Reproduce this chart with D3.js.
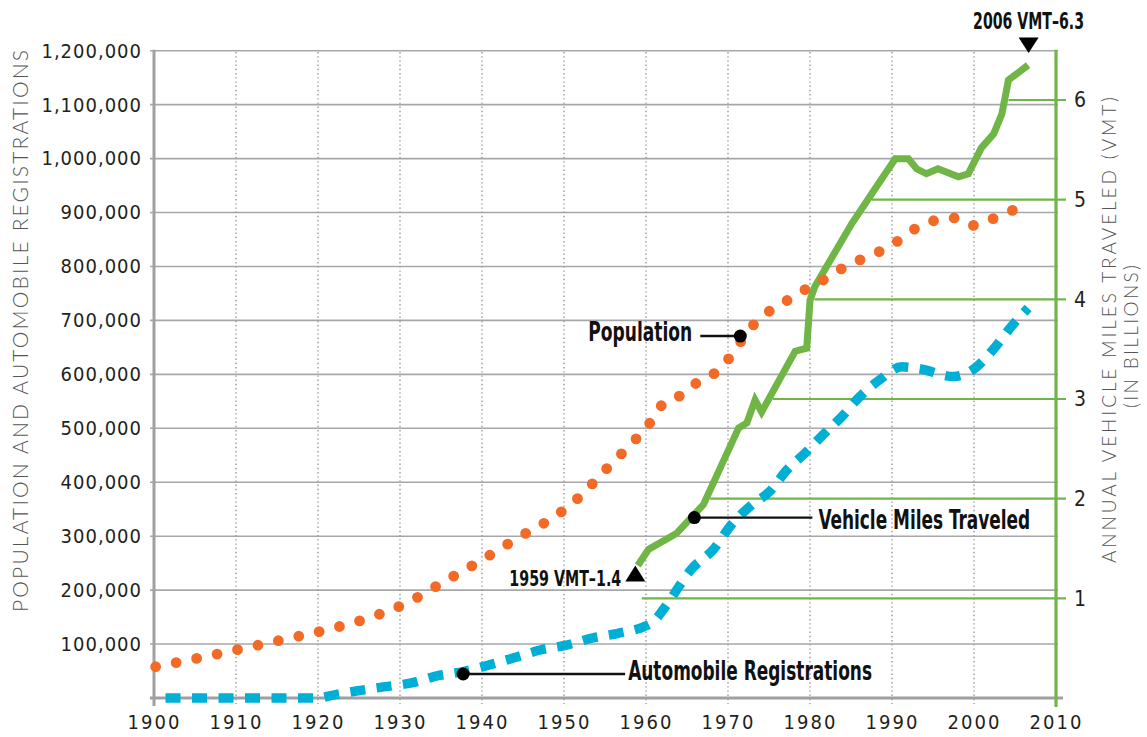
<!DOCTYPE html>
<html>
<head>
<meta charset="utf-8">
<script src="https://cdn.jsdelivr.net/npm/d3@7"></script>
<style>
	body { margin: 0; background: #fff; }
	svg { display: block; }
	.tick text { font-family: "Liberation Sans Narrow", "DejaVu Sans Condensed", sans-serif; font-size: 20px; fill: #231f20; letter-spacing: 1px; }
	.axisTitle { font-family: Lato, "Open Sans", sans-serif; font-weight: 300; font-size: 21px; fill: #555; }
	.callout { font-family: "Liberation Sans Narrow", "DejaVu Sans Condensed", sans-serif; font-weight: bold; fill: #111; }
</style>
</head>
<body>
<div class="vis"></div>
<script>

//********************//
//        DATA        //
//********************//

// population
var popYears = [1900.2, 1905.4, 1910.6, 1915.7, 1920.9, 1925.9, 1930.8, 1935.4, 1940, 1944.4, 1949, 1951.1, 1953, 1954.8, 1956.7, 1958.5, 1960.3, 1961.7, 1963.3, 1965.2, 1967.5, 1969.5, 1971.1, 1972.6, 1974.5, 1976.7, 1978.9, 1981.2, 1983.4, 1985.6, 1988.1, 1990.4, 1992.5, 1994.9, 1997.5, 1999.8, 2002.2, 2004.7];
var popValues = [58000, 74000, 91000, 108000, 126000, 147000, 176000, 216000, 256000, 297000, 338000, 362000, 390000, 419000, 448000, 476000, 506000, 540000, 550000, 576000, 593000, 618000, 651000, 683000, 711000, 732000, 753000, 771000, 792000, 809000, 825000, 844000, 867000, 884000, 890000, 876000, 888000, 904000];

// automobile registrations (dashed blue line)
var regYears = [1900, 1920, 1921.7, 1924.7, 1928.2, 1931.4, 1934.5, 1937.7, 1940.8, 1944, 1947.1, 1950.3, 1953.4, 1956.6, 1959.7, 1960.8, 1962.2, 1965.6, 1968.2, 1970.4, 1972.9, 1975.1, 1977.2, 1979.4, 1981.4, 1983.9, 1986.1, 1988.5, 1991.2, 1993.5, 1997.5, 1999.5, 2002.4, 2004.4, 2006.6];
var regValues = [0, 0, 5000, 13000, 21000, 28000, 41000, 49000, 61000, 75000, 89000, 98000, 111000, 120000, 132000, 140000, 166000, 240000, 275000, 321000, 358000, 383000, 423000, 454000, 485000, 522000, 559000, 590000, 614000, 610000, 596000, 605000, 647000, 686000, 723000];

// annual vehicle miles traveled, billions (solid green line)
var vmtYears = [1959, 1960.3, 1963.7, 1967, 1971.3, 1972.3, 1973.3, 1974.1, 1978.2, 1979.6, 1980, 1980.6, 1985.1, 1988.1, 1990.4, 1992, 1993, 1994.2, 1995.6, 1998.1, 1999.3, 2000.9, 2002.4, 2003.4, 2004.2, 2006.6];
var vmtValues = [1.33, 1.49, 1.65, 1.94, 2.71, 2.76, 2.99, 2.87, 3.48, 3.51, 3.99, 4.13, 4.76, 5.13, 5.41, 5.41, 5.31, 5.26, 5.31, 5.23, 5.26, 5.52, 5.66, 5.86, 6.20, 6.35];

// ticks
var yearTicks = [1900, 1910, 1920, 1930, 1940, 1950, 1960, 1970, 1980, 1990, 2000, 2010];
var leftTicks = [100000, 200000, 300000, 400000, 500000, 600000, 700000, 800000, 900000, 1000000, 1100000, 1200000];
var rightTicks = [1, 2, 3, 4, 5, 6];

// callouts: label, year, value, which axis
var calloutLabels = ["Population", "Vehicle Miles Traveled", "Automobile Registrations"];
var calloutYears = [1971.5, 1965.9, 1937.7];
var calloutValues = [671000, 1.81, 44500];
var calloutAxis = ["left", "right", "left"];

var endLabels = ["1959 VMT\u20131.4", "2006 VMT\u20136.3"];


//********************//
//   SVG AND SCALES   //
//********************//

var svg = d3.select(".vis").append("svg")
	.attr("width", 1147)
	.attr("height", 737);

var x = d3.scaleLinear().domain([1900, 2010]).range([154, 1056]);
var yLeft = d3.scaleLinear().domain([0, 1200000]).range([698, 50.7]);
var yRight = d3.scaleLinear().domain([0, 6]).range([698, 100]);

var gridGrey = "#a7a7a9";
var green = "#6fb646";
var orange = "#f26a25";
var blue = "#00afd6";

// horizontal gridlines
svg.append("g").selectAll("line")
	.data(leftTicks)
	.enter().append("line")
	.attr("x1", 150).attr("x2", 1058)
	.attr("y1", function(d) { return yLeft(d); })
	.attr("y2", function(d) { return yLeft(d); })
	.attr("stroke", gridGrey)
	.attr("stroke-width", 1.6);

// vertical dotted gridlines
svg.append("g").selectAll("line")
	.data(yearTicks.slice(1, -1))
	.enter().append("line")
	.attr("x1", function(d) { return x(d); })
	.attr("x2", function(d) { return x(d); })
	.attr("y1", 52).attr("y2", 704)
	.attr("stroke", "#999")
	.attr("stroke-width", 1.4)
	.attr("stroke-dasharray", "1.4,2.8");

// left and bottom axis lines
svg.append("line")
	.attr("x1", x(1900)).attr("x2", x(1900))
	.attr("y1", yLeft(1200000) - 1).attr("y2", 706)
	.attr("stroke", "#a0a0a2").attr("stroke-width", 3);
svg.append("line")
	.attr("x1", 150).attr("x2", 1063)
	.attr("y1", yLeft(0)).attr("y2", yLeft(0))
	.attr("stroke", "#a0a0a2").attr("stroke-width", 3);

// right (VMT) axis line
svg.append("line")
	.attr("x1", x(2010)).attr("x2", x(2010))
	.attr("y1", yLeft(1200000) - 1).attr("y2", 707)
	.attr("stroke", green).attr("stroke-width", 3.2);

// axis labels
svg.append("g")
	.attr("transform", "translate(" + x(1900) + ",0)")
	.call(d3.axisLeft(yLeft).tickValues(leftTicks).tickFormat(d3.format(",")).tickSize(0).tickPadding(12))
	.call(function(g) { g.select(".domain").remove(); });

svg.append("g")
	.attr("transform", "translate(0," + yLeft(0) + ")")
	.call(d3.axisBottom(x).tickValues(yearTicks).tickFormat(d3.format("d")).tickSize(0).tickPadding(17))
	.call(function(g) { g.select(".domain").remove(); })
	.selectAll("text").style("letter-spacing", "2px");

svg.append("g")
	.attr("transform", "translate(" + x(2010) + ",0)")
	.call(d3.axisRight(yRight).tickValues(rightTicks).tickFormat(d3.format("d")).tickSize(0).tickPadding(18))
	.call(function(g) { g.select(".domain").remove(); })
	.selectAll("text").style("font-size", "21px");

// axis titles
svg.append("text")
	.attr("class", "axisTitle")
	.attr("transform", "translate(28,331) rotate(-90)")
	.attr("text-anchor", "middle")
	.attr("textLength", 562)
	.text("POPULATION AND AUTOMOBILE REGISTRATIONS");

svg.append("text")
	.attr("class", "axisTitle")
	.attr("transform", "translate(1115.5,330) rotate(-90)")
	.attr("text-anchor", "middle")
	.style("font-size", "19px")
	.attr("textLength", 466)
	.text("ANNUAL VEHICLE MILES TRAVELED (VMT)");

svg.append("text")
	.attr("class", "axisTitle")
	.attr("transform", "translate(1138,336.5) rotate(-90)")
	.attr("text-anchor", "middle")
	.style("font-size", "19px")
	.attr("textLength", 143)
	.text("(IN BILLIONS)");


//********************//
//   VMT LEVEL LINES  //
//********************//

// each green level line starts where the VMT line first reaches it
var levelStart = function(v) {
	for (var i = 0; i < vmtValues.length; i++) {
		if (vmtValues[i] >= v) {
			if (i === 0) return x(vmtYears[0]);
			var t = (v - vmtValues[i - 1]) / (vmtValues[i] - vmtValues[i - 1]);
			return x(vmtYears[i - 1] + t * (vmtYears[i] - vmtYears[i - 1]));
		}
	}
	return x(2010);
};

svg.append("g").selectAll("line")
	.data(rightTicks)
	.enter().append("line")
	.attr("x1", function(d) { return levelStart(d) + 4; })
	.attr("x2", 1066)
	.attr("y1", function(d) { return yRight(d); })
	.attr("y2", function(d) { return yRight(d); })
	.attr("stroke", green)
	.attr("stroke-width", 2.2);


//********************//
//       SERIES       //
//********************//

var vmtLine = d3.line()
	.x(function(d, i) { return x(vmtYears[i]); })
	.y(function(d) { return yRight(d); });

svg.append("path")
	.datum(vmtValues)
	.attr("d", vmtLine)
	.attr("fill", "none")
	.attr("stroke", green)
	.attr("stroke-width", 7)
	.attr("stroke-linejoin", "miter");

var regLine = d3.line()
	.x(function(d, i) { return x(regYears[i]); })
	.y(function(d) { return yLeft(d); })
	.curve(d3.curveMonotoneX);

svg.append("path")
	.datum(regValues)
	.attr("d", regLine)
	.attr("fill", "none")
	.attr("stroke", blue)
	.attr("stroke-width", 9.5)
	.attr("stroke-dasharray", "15,11.5")
	.attr("stroke-dashoffset", 15);

var popLine = d3.line()
	.x(function(d, i) { return x(popYears[i]); })
	.y(function(d) { return yLeft(d); })
	.curve(d3.curveMonotoneX);

var popPath = svg.append("path")
	.datum(popValues)
	.attr("d", popLine)
	.attr("fill", "none")
	.attr("stroke", orange)
	.attr("stroke-width", 10.8)
	.attr("stroke-linecap", "round");

// space the dots evenly so both ends get one
var popLength = popPath.node().getTotalLength();
var dotGap = (popLength - 0.5) / Math.round(popLength / 21);
popPath.attr("stroke-dasharray", "0," + dotGap);


//********************//
//      CALLOUTS      //
//********************//

// squeeze a bold label horizontally to the condensed width of the original
var condensedText = function(px, py, anchor, size, width, label) {
	var t = svg.append("text")
		.attr("class", "callout")
		.attr("font-size", size)
		.text(label);
	var natural = t.node().getComputedTextLength();
	var sx = width / natural;
	var left = anchor === "end" ? px - width : (anchor === "middle" ? px - width / 2 : px);
	t.attr("transform", "translate(" + left + "," + py + ") scale(" + sx + ",1)");
	return t;
};

var calloutText = [
	{ "dx": -48, "gap": -40, "anchor": "end", "len": 104, "dy": 5 },
	{ "dx": 124, "gap": 118, "anchor": "start", "len": 212, "dy": 11 },
	{ "dx": 165, "gap": 162, "anchor": "start", "len": 244, "dy": 6 }
];

calloutLabels.forEach(function(label, i) {
	var cx = x(calloutYears[i]);
	var cy = calloutAxis[i] === "left" ? yLeft(calloutValues[i]) : yRight(calloutValues[i]);
	var t = calloutText[i];
	svg.append("line")
		.attr("x1", cx).attr("x2", cx + t.gap)
		.attr("y1", cy).attr("y2", cy)
		.attr("stroke", "#111").attr("stroke-width", 2.4);
	svg.append("circle")
		.attr("cx", cx).attr("cy", cy).attr("r", 6.5)
		.attr("fill", "#000");
	condensedText(cx + t.dx, cy + t.dy, t.anchor, 26, t.len, label);
});

// start and end markers of the VMT line
var firstX = x(vmtYears[0]) - 2.5, firstY = yRight(vmtValues[0]);
svg.append("path")
	.attr("d", "M" + firstX + "," + firstY + " l10,16 l-20,0 Z")
	.attr("fill", "#000");
condensedText(firstX - 14, firstY + 20.5, "end", 21, 112, endLabels[0]);

var lastX = x(vmtYears[vmtYears.length - 1]) + 0.5, lastY = yRight(vmtValues[vmtValues.length - 1]);
svg.append("path")
	.attr("d", "M" + lastX + "," + (lastY - 12) + " l10,-15.5 l-20,0 Z")
	.attr("fill", "#000");
condensedText(lastX, lastY - 36, "middle", 23, 111, endLabels[1]);

</script>
</body>
</html>
